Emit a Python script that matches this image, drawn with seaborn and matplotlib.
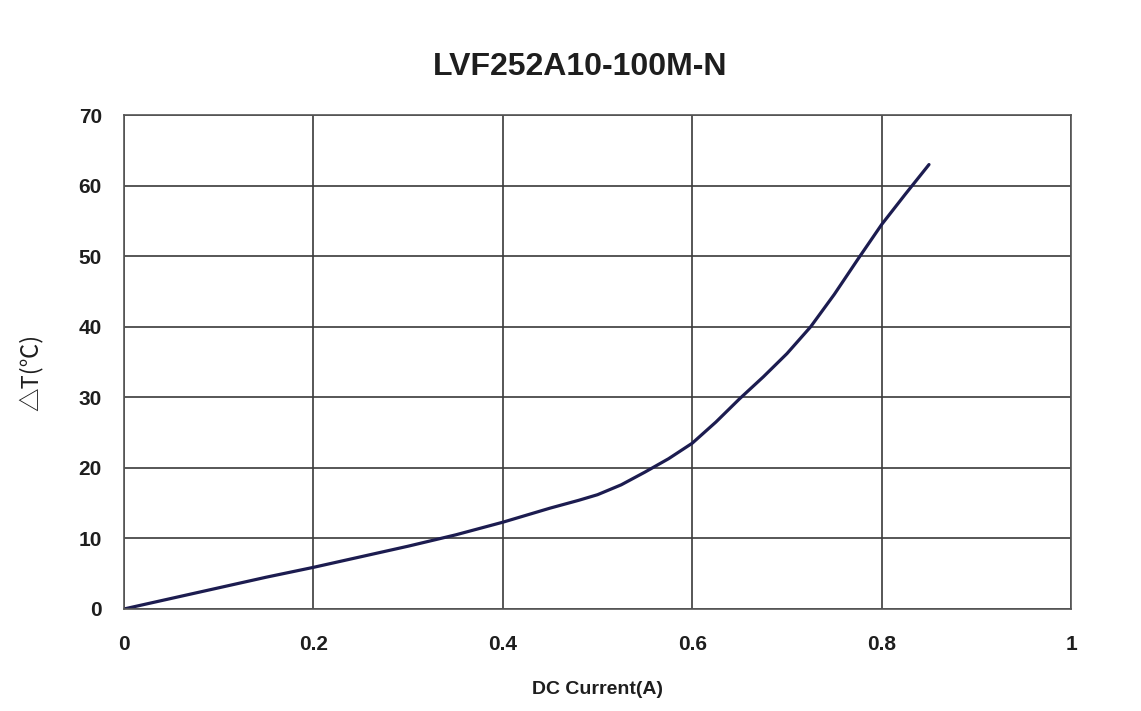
import numpy as np
import pandas as pd
import matplotlib
matplotlib.use("Agg")
from matplotlib import pyplot as plt
import seaborn as sns

# values
current = [0, 0.05, 0.1, 0.15, 0.2, 0.25, 0.3, 0.35, 0.4, 0.45, 0.48, 0.5, 0.525, 0.55,
           0.575, 0.6, 0.625, 0.65, 0.675, 0.7, 0.725, 0.75, 0.775, 0.8, 0.825, 0.85]
delta_t = [0, 1.5, 3.0, 4.5, 5.9, 7.4, 8.9, 10.5, 12.3, 14.3, 15.4, 16.2, 17.6, 19.4,
           21.3, 23.5, 26.5, 29.8, 32.9, 36.2, 40.0, 44.6, 49.6, 54.5, 58.8, 63.0]

x_ticks = [0, 0.2, 0.4, 0.6, 0.8, 1.0]
x_labels = ["0", "0.2", "0.4", "0.6", "0.8", "1"]
y_ticks = [0, 10, 20, 30, 40, 50, 60, 70]

df = pd.DataFrame({"DC Current(A)": current, "dT": delta_t})

sns.set_style("white")
plt.rcParams["font.family"] = ["Liberation Sans", "DejaVu Sans"]

fig = plt.figure(figsize=(11.41, 7.11), dpi=100)
ax = fig.add_axes([0.1087, 0.1435, 0.83, 0.6945])

sns.lineplot(data=df, x="DC Current(A)", y="dT", ax=ax, color="#1c1c50", linewidth=2.3)

ax.set_xlim(0, 1)
ax.set_ylim(0, 70)
ax.set_xticks(x_ticks)
ax.set_xticklabels(x_labels)
ax.set_yticks(y_ticks)
ax.grid(True, color="#3a3a3a", linewidth=1.2)
ax.tick_params(axis="both", length=0, labelsize=15)
ax.tick_params(axis="x", pad=19)
ax.tick_params(axis="y", pad=16)
for lab in ax.get_xticklabels() + ax.get_yticklabels():
    lab.set_fontweight("bold")
    lab.set_color("#1e1e1e")
for sp in ax.spines.values():
    sp.set_color("#555555")
    sp.set_linewidth(1.2)

ax.set_xlabel("DC Current(A)", fontsize=14, fontweight="bold", color="#1e1e1e")
ax.xaxis.set_label_coords(0.5, -0.146)
ax.set_ylabel("△T(℃)", fontsize=17, color="#1e1e1e",
              family=["Noto Sans CJK SC", "DejaVu Sans"])
ax.yaxis.set_label_coords(-0.086, 0.48)
fig.text(580 / 1141, 1 - 67 / 711, "LVF252A10-100M-N", fontsize=23, fontweight="bold",
         color="#1e1e1e", ha="center", va="center")

plt.savefig("out.png", dpi=100)
